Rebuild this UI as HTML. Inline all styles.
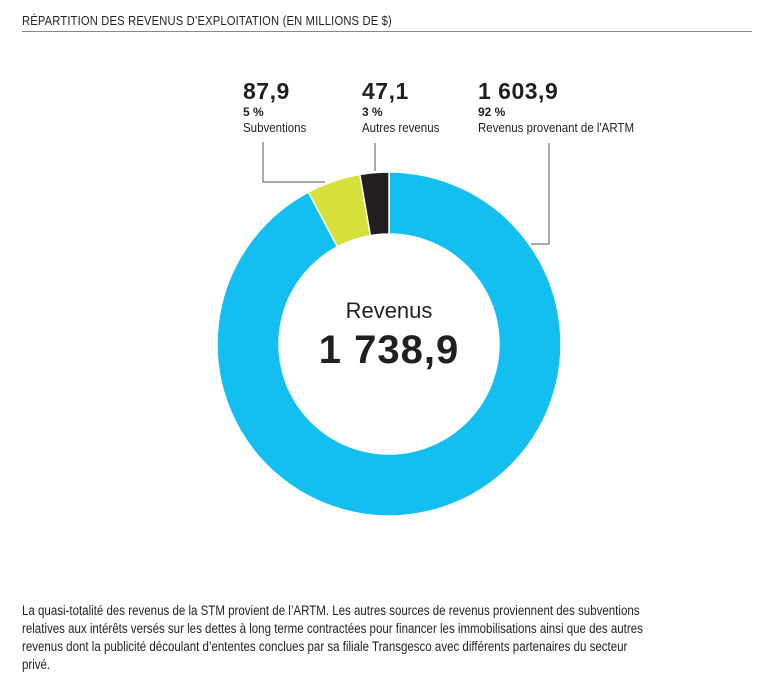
<!DOCTYPE html>
<html><head><meta charset="utf-8">
<style>
body{margin:0;background:#fff;width:780px;height:697px;position:relative;overflow:hidden;font-family:"Liberation Sans",sans-serif;color:#231f20}
.cond{position:absolute;left:22px;white-space:nowrap;transform-origin:0 0;transform:scaleX(0.86)}
#title{top:13px;font-size:13px;letter-spacing:0.2px}
#rule{position:absolute;left:22px;top:31px;width:730px;height:1px;background:#888}
.body{font-size:13.4px}
.lbl{position:absolute;white-space:nowrap}
.val{font-weight:bold;font-size:23px;line-height:23px;letter-spacing:0.5px}
.pct{font-weight:bold;font-size:12px;line-height:15px;margin-top:2px}
.nm{font-size:12.5px;line-height:16px;transform-origin:0 0;transform:scaleX(0.92)}
</style></head><body>
<div id="title" class="cond">RÉPARTITION DES REVENUS D’EXPLOITATION (EN MILLIONS DE $)</div>
<div id="rule"></div>
<svg id="chart" width="780" height="697" style="position:absolute;left:0;top:0"></svg>
<div class="lbl" style="left:243px;top:80px"><div class="val">87,9</div><div class="pct">5 %</div><div class="nm">Subventions</div></div>
<div class="lbl" style="left:362px;top:80px"><div class="val">47,1</div><div class="pct">3 %</div><div class="nm">Autres revenus</div></div>
<div class="lbl" style="left:478px;top:80px"><div class="val">1 603,9</div><div class="pct">92 %</div><div class="nm">Revenus provenant de l'ARTM</div></div>
<div style="position:absolute;left:289px;top:298px;width:200px;text-align:center;font-size:22px;line-height:26px">Revenus</div>
<div style="position:absolute;left:269px;top:329px;width:240px;text-align:center;font-size:40px;font-weight:bold;line-height:42px;letter-spacing:1px">1 738,9</div>
<div class="cond body" style="top:603px">La quasi-totalité des revenus de la STM provient de l’ARTM. Les autres sources de revenus proviennent des subventions</div>
<div class="cond body" style="top:621px">relatives aux intérêts versés sur les dettes à long terme contractées pour financer les immobilisations ainsi que des autres</div>
<div class="cond body" style="top:639px">revenus dont la publicité découlant d’ententes conclues par sa filiale Transgesco avec différents partenaires du secteur</div>
<div class="cond body" style="top:657px">privé.</div>
<script>
const categories=["artm","subventions","autres"];
const values=[1603.9,87.9,47.1];
const colors=["#12bff0","#d5e03a","#231f20"];
const cx=389,cy=344,R=172,r=110;
const svg=document.getElementById('chart');
const NS="http://www.w3.org/2000/svg";
const total=values.reduce((a,b)=>a+b,0);
function pt(a,rad){return [cx+rad*Math.sin(a),cy-rad*Math.cos(a)];}
let a0=0;
values.forEach((v,i)=>{
  const a1=a0+v/total*2*Math.PI;
  const large=(a1-a0)>Math.PI?1:0;
  const p1=pt(a0,R),p2=pt(a1,R),p3=pt(a1,r),p4=pt(a0,r);
  const p=document.createElementNS(NS,'path');
  p.setAttribute('d',`M${p1[0]},${p1[1]} A${R},${R} 0 ${large} 1 ${p2[0]},${p2[1]} L${p3[0]},${p3[1]} A${r},${r} 0 ${large} 0 ${p4[0]},${p4[1]} Z`);
  p.setAttribute('fill',colors[i]);
  p.setAttribute('stroke','#fff');
  p.setAttribute('stroke-width','1.5');
  
  
  svg.appendChild(p);
  a0=a1;
});
const leaders=[["subventions","M263,142 V182 H325"],["autres","M375,143 V171"],["artm","M549,143 V244 H531"]];
leaders.forEach(l=>{
  const p=document.createElementNS(NS,'path');
  p.setAttribute('d',l[1]);
  p.setAttribute('fill','none');
  p.setAttribute('stroke','#555');
  p.setAttribute('stroke-width','1');
  
  
  svg.appendChild(p);
});
</script>
</body></html>
